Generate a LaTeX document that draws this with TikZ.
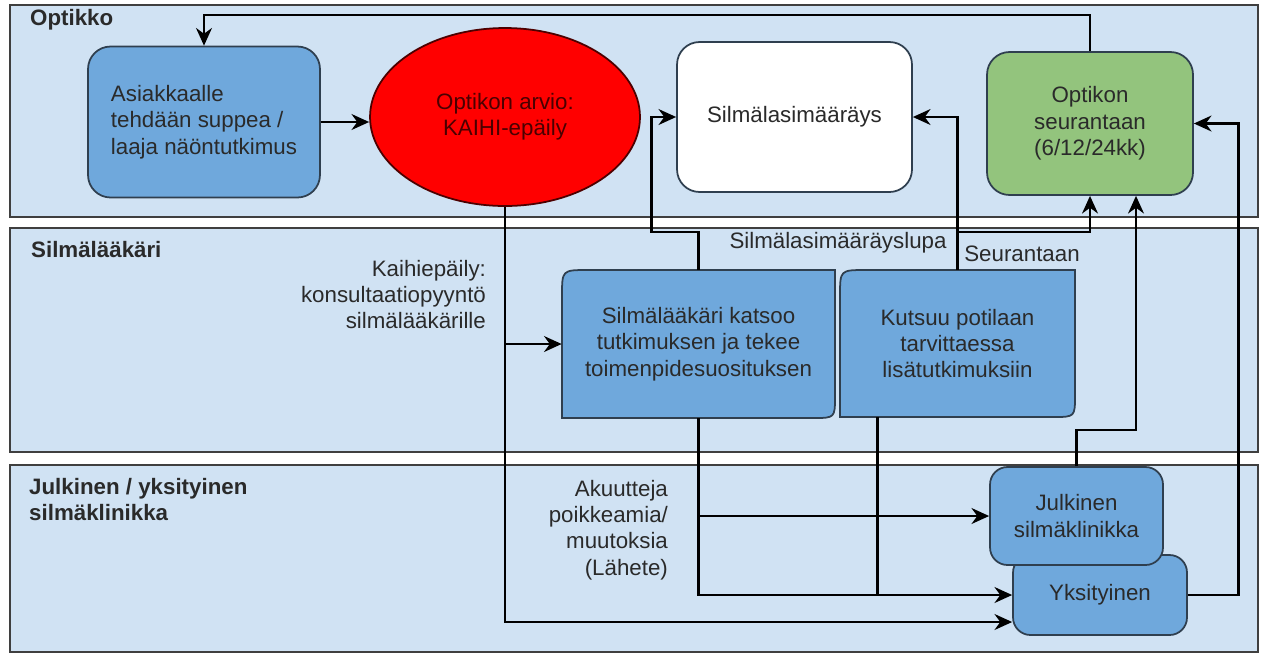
\documentclass[tikz,border=0pt]{standalone}
\usepackage{fontspec}
\setmainfont{Liberation Sans}
\usetikzlibrary{arrows.meta,shapes.geometric}
\definecolor{lanefill}{HTML}{D0E2F3}
\definecolor{laneline}{HTML}{3F3F3F}
\definecolor{boxfill}{HTML}{6FA8DC}
\definecolor{boxline}{HTML}{2F3F4F}
\definecolor{greenfill}{HTML}{93C47D}
\definecolor{txt}{HTML}{2A2A2A}
\definecolor{redtxt}{HTML}{4A0000}
\begin{document}
\begin{tikzpicture}[x=0.02cm, y=-0.02cm,
	font=\fontsize{12.7}{15}\selectfont, text=txt,
	lane/.style={draw=laneline, fill=lanefill, line width=1pt},
	lanetitle/.style={anchor=base west, font=\fontsize{12.7}{15}\selectfont\bfseries},
	roundbox/.style={draw=boxline, fill=boxfill, rounded corners=0.45cm, line width=1pt, align=center},
	docshape/.style={draw=boxline, fill=boxfill, line width=1pt},
	plain/.style={align=center, inner sep=0pt},
	note/.style={align=center, inner sep=1pt},
	flow/.style={line width=1.6pt, -{Stealth[length=10pt,width=9pt]}},
	link/.style={line width=1.6pt}]
	\useasboundingbox (0,0) rectangle (1266,657);
	% lanes
	\draw[lane] (10,5) rectangle (1258,217);
	\draw[lane] (10,228) rectangle (1258,452);
	\draw[lane] (10,465) rectangle (1258,652);
	\node[lanetitle] (optikko) at (24,25) {Optikko};
	\node[lanetitle] (silmalaakari) at (25,257) {Silmälääkäri};
	\node[lanetitle, anchor=north west, align=left] (klinikka) at (23,472) {Julkinen / yksityinen\\silmäklinikka};
	% shapes with two rounded corners
	\draw[docshape] (562,418) -- (562,296) .. controls (562,270) .. (588,270) -- (835,270) -- (835,396) .. controls (835,418) .. (813,418) -- cycle;
	\draw[docshape] (840,417) -- (840,296) .. controls (840,270) .. (866,270) -- (1075,270) -- (1075,395) .. controls (1075,417) .. (1053,417) -- cycle;
	% nodes
	\node[roundbox, align=left, minimum width=4.64cm, minimum height=3.02cm] (asiakas) at (204,122) {Asiakkaalle\\tehdään suppea /\\laaja näöntutkimus};
	\node[ellipse, draw=black!70!red, fill=red, line width=1pt, text=redtxt, align=center, minimum width=5.4cm, minimum height=3.56cm] (arvio) at (505,117) {Optikon arvio:\\KAIHI-epäily};
	\node[roundbox, fill=white, minimum width=4.7cm, minimum height=3cm] (lasit) at (794.5,117) {Silmälasimääräys};
	\node[roundbox, fill=greenfill, minimum width=4.12cm, minimum height=2.86cm] (seuranta) at (1090,123.5) {Optikon\\seurantaan\\(6/12/24kk)};
	\node[plain, minimum width=5.46cm, minimum height=2.96cm] (laakari) at (698.5,344) {Silmälääkäri katsoo\\tutkimuksen ja tekee\\toimenpidesuosituksen};
	\node[plain, minimum width=4.7cm, minimum height=2.94cm] (kutsu) at (957.5,343.5) {Kutsuu potilaan\\tarvittaessa\\lisätutkimuksiin};
	\node[roundbox, rounded corners=0.35cm, minimum width=3.48cm, minimum height=1.6cm] (yksityinen) at (1100,595) {Yksityinen};
	\node[roundbox, rounded corners=0.35cm, minimum width=3.46cm, minimum height=1.96cm] (julkinen) at (1076.5,516) {Julkinen\\silmäklinikka};
	% texts
	\node[note, anchor=north east, align=right] (kaihi) at (488,258) {Kaihiepäily:\\konsultaatiopyyntö\\silmälääkärille};
	\node[note] (lupa) at (838,243) {Silmälasimääräyslupa};
	\node[note] (seur) at (1022,254) {Seurantaan};
	\node[note, anchor=east, align=right] (akuutti) at (670,530) {Akuutteja\\poikkeamia/\\muutoksia\\(Lähete)};
	% connectors
	\draw[flow] (asiakas.east) -- (asiakas.east -| arvio.west);
	\draw[flow] (seuranta.north) -- (seuranta.north |- 0,15) -| (asiakas.north);
	\draw[flow] (arvio.south) |- ([yshift=-0.54cm]yksityinen.west);
	\draw[flow] (arvio.south |- laakari.west) -- (laakari.west);
	\draw[flow] (laakari.north) -- (laakari.north |- 0,232) -| ([xshift=-0.5cm]lasit.west) -- (lasit.west);
	\draw[flow] (kutsu.north) |- (lasit.east);
	\draw[flow] (kutsu.north |- 0,232) -| (seuranta.south);
	\draw[flow] (julkinen.north) -- (julkinen.north |- 0,430) -| ([xshift=0.92cm]seuranta.south);
	\draw[flow] (yksityinen.east) -| ([xshift=0.9cm]seuranta.east) -- (seuranta.east);
	\draw[flow] (laakari.south) |- (yksityinen.west);
	\draw[flow] (laakari.south |- julkinen.west) -- (julkinen.west);
	\draw[link] ([xshift=0.76cm]kutsu.south west) -- ([xshift=0.76cm]kutsu.south west |- yksityinen.west);
\end{tikzpicture}
\end{document}
